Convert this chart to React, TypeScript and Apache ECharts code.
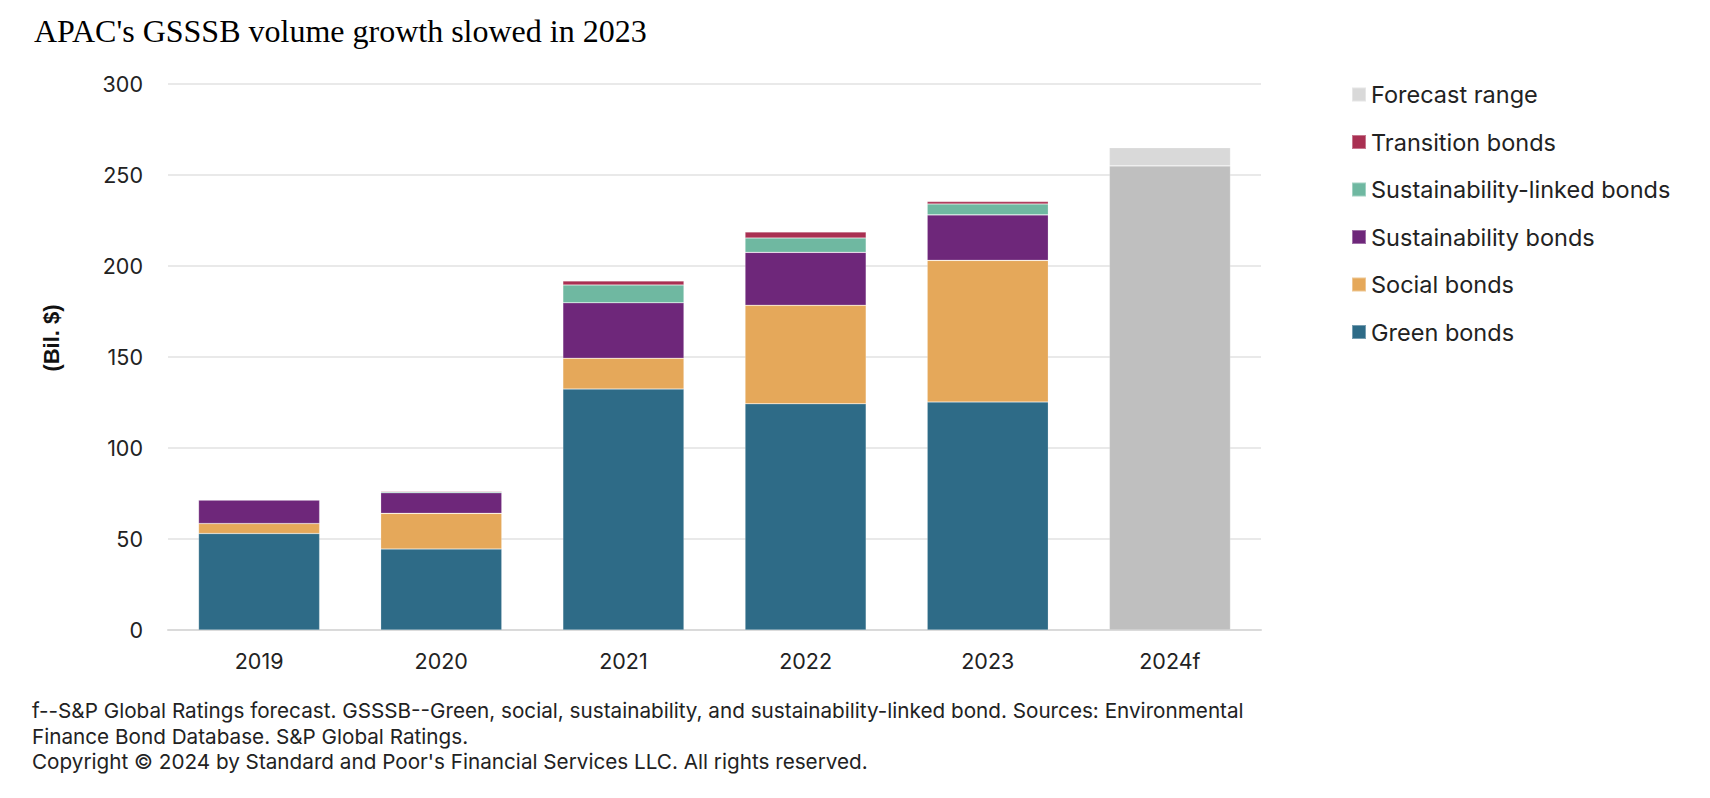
import React, { useEffect, useRef } from "react";
import * as echarts from "echarts";

const categories = ["2019", "2020", "2021", "2022", "2023", "2024f"];
const greenBonds = [53, 44.5, 132.4, 124.3, 125.3, null];
const socialBonds = [5.5, 19.6, 16.9, 54.1, 77.8, null];
const sustainabilityBonds = [13, 11.3, 30.5, 29.1, 25, null];
const slBonds = [0, 0.6, 9.8, 7.9, 6, null];
const transitionBonds = [0, 0.4, 2.2, 3.3, 1.3, null];
const forecastBase = [null, null, null, null, null, 255];
const forecastRange = [null, null, null, null, null, 10];
const yTicks = { min: 0, max: 300, interval: 50 };

const FONT = "Inter, Roboto, 'Noto Sans', sans-serif";

export default function App() {
  const ref = useRef<HTMLDivElement>(null);
  useEffect(() => {
    document.body.style.margin = "0";
    if (!ref.current) return;
    const chart = echarts.init(ref.current, undefined, { renderer: "svg" });
    const bar = (name: string, data: any[], color: string) => ({
      name,
      type: "bar",
      stack: "total",
      data,
      barWidth: "66.5%",
      itemStyle: { color, borderColor: "rgba(255,255,255,0.35)", borderWidth: 0.6 },
      emphasis: { disabled: true },
    });
    chart.setOption({
      animation: false,
      textStyle: { fontFamily: FONT },
      title: {
        text: "APAC's GSSSB volume growth slowed in 2023",
        left: 29,
        top: 10,
        textStyle: {
          fontFamily: "'Liberation Serif', 'DejaVu Serif', serif",
          fontSize: 32,
          fontWeight: "normal",
          color: "#000",
        },
      },
      grid: { left: 168, right: 449, top: 84, bottom: 168 },
      legend: {
        orient: "vertical",
        left: 1346,
        top: 77.5,
        itemWidth: 14,
        itemHeight: 14,
        itemGap: 23.5,
        icon: "rect",
        data: [
          "Forecast range",
          "Transition bonds",
          "Sustainability-linked bonds",
          "Sustainability bonds",
          "Social bonds",
          "Green bonds",
        ],
        textStyle: { fontFamily: FONT, fontSize: 23.5, color: "#222", lineHeight: 22 },
        selectedMode: false,
      },
      xAxis: {
        type: "category",
        data: categories,
        axisLine: { lineStyle: { color: "#DADADA", width: 2 } },
        axisTick: { show: false },
        axisLabel: { fontFamily: FONT, fontSize: 21.5, color: "#222", margin: 20 },
      },
      yAxis: {
        type: "value",
        min: yTicks.min,
        max: yTicks.max,
        interval: yTicks.interval,
        axisLine: { show: false },
        axisTick: { show: false },
        axisLabel: { fontFamily: FONT, fontSize: 21.5, color: "#222", margin: 25 },
        splitLine: { lineStyle: { color: "#E2E2E2", width: 1.5 } },
      },
      series: [
        bar("Green bonds", greenBonds, "#2E6B87"),
        bar("Social bonds", socialBonds, "#E5A85A"),
        bar("Sustainability bonds", sustainabilityBonds, "#6E277A"),
        bar("Sustainability-linked bonds", slBonds, "#6FB8A1"),
        bar("Transition bonds", transitionBonds, "#A93052"),
        bar("Forecast base", forecastBase, "#BFBFBF"),
        bar("Forecast range", forecastRange, "#D9D9D9"),
      ],
      graphic: [
        {
          type: "text",
          x: 51,
          y: 338,
          rotation: Math.PI / 2,
          style: {
            text: "(Bil. $)",
            fontFamily: "'Liberation Sans', Arial, sans-serif",
            fontSize: 22,
            fontWeight: "bold",
            fill: "#111",
            align: "center",
            verticalAlign: "middle",
          },
        },
        {
          type: "text",
          left: 32,
          top: 698,
          style: {
            text:
              "f--S&P Global Ratings forecast. GSSSB--Green, social, sustainability, and sustainability-linked bond. Sources: Environmental\nFinance Bond Database. S&P Global Ratings.\nCopyright © 2024 by Standard and Poor's Financial Services LLC. All rights reserved.",
            fontFamily: FONT,
            fontSize: 20.7,
            lineHeight: 25.5,
            fill: "#222",
          },
        },
      ],
    });
    return () => chart.dispose();
  }, []);
  return <div ref={ref} style={{ width: 1710, height: 798 }} />;
}
